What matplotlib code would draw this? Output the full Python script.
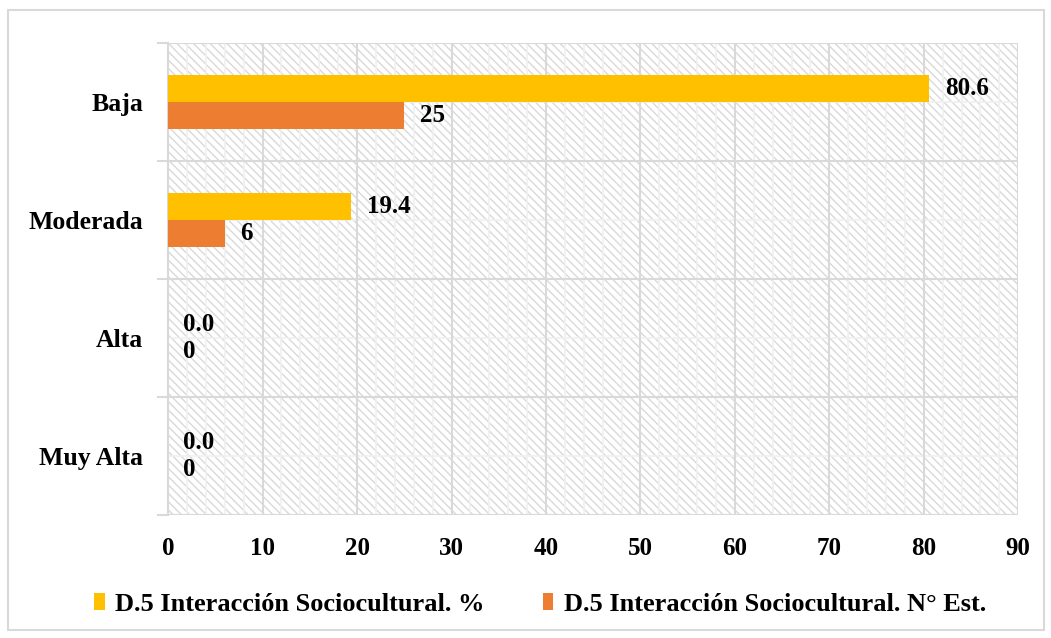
import matplotlib.pyplot as plt
import matplotlib.patches as patches
import numpy as np

plt.rcParams['font.family'] = ['Liberation Serif', 'DejaVu Serif']
plt.rcParams['font.weight'] = 'bold'
plt.rcParams['hatch.linewidth'] = 1.0
plt.rcParams['hatch.color'] = '#d9d9d9'

# Datos
categorias = ['Baja', 'Moderada', 'Alta', 'Muy Alta']
porcentaje = [80.6, 19.4, 0.0, 0.0]
estudiantes = [25, 6, 0, 0]
etiquetas_pct = ['80.6', '19.4', '0.0', '0.0']
etiquetas_est = ['25', '6', '0', '0']
nombre_pct = 'D.5 Interacción Sociocultural. %'
nombre_est = 'D.5 Interacción Sociocultural. N° Est.'

cor_pct = '#ffc000'
cor_est = '#ed7d31'
cor_grade = '#d9d9d9'
tam = 18

fig = plt.figure(figsize=(10.51, 6.38), dpi=100)
ax = fig.add_axes([0.160, 0.1928, 0.8088, 0.7398])

# Borda externa
fig.patches.append(patches.Rectangle((0.008, 0.013), 0.985, 0.972, transform=fig.transFigure,
                                     fill=False, edgecolor='#d9d9d9', linewidth=1.5))

n = len(categorias)
y = np.arange(n)[::-1]  # Baja em cima
altura = 0.23

ax.set_xlim(0, 90)
ax.set_ylim(-0.5, n - 0.5)

# Fundo hachurado
ax.add_patch(patches.Rectangle((0, -0.5), 90, n, facecolor='white', edgecolor=cor_grade,
                               hatch='\\\\\\\\', linewidth=0, zorder=0))

# Linhas de grade secundárias
for xv in np.arange(2, 90, 2):
    if xv % 10 != 0:
        ax.axvline(xv, color='#f0f0f0', linewidth=1.2, zorder=0.5)
for yv in y:
    ax.axhline(yv, color='#f0f0f0', linewidth=1.2, zorder=0.5)

# Grade principal
for xv in np.arange(10, 91, 10):
    ax.axvline(xv, color=cor_grade, linewidth=1.5, zorder=1)
for yv in np.arange(-0.5, n, 1.0):
    ax.axhline(yv, color=cor_grade, linewidth=1.5, zorder=1)

b1 = ax.barh(y + altura / 2, porcentaje, height=altura, color=cor_pct, label=nombre_pct, zorder=3)
b2 = ax.barh(y - altura / 2, estudiantes, height=altura, color=cor_est, label=nombre_est, zorder=3)

ax.bar_label(b1, labels=etiquetas_pct, padding=11, fontsize=tam, fontweight='bold', zorder=4)
ax.bar_label(b2, labels=etiquetas_est, padding=11, fontsize=tam, fontweight='bold', zorder=4)

# Eixos
for lado in ['top', 'right', 'bottom']:
    ax.spines[lado].set_visible(False)
ax.spines['left'].set_color(cor_grade)
ax.spines['left'].set_linewidth(1.5)

ax.set_xticks(np.arange(0, 91, 10))
ax.tick_params(axis='x', length=0, labelsize=tam, pad=16)
ax.set_yticks(np.arange(-0.5, n, 1.0))
ax.set_yticklabels([])
ax.tick_params(axis='y', which='major', length=8, width=1.5, color=cor_grade)
ax.set_yticks(y, minor=True)
ax.set_yticklabels(categorias, minor=True)
ax.tick_params(axis='y', which='minor', length=0, labelsize=tam + 0.5, pad=18)
for t in ax.get_xticklabels() + ax.get_yticklabels(minor=True):
    t.set_fontweight('bold')

ax.legend(loc='center', bbox_to_anchor=(0.4376, -0.189), ncol=2, frameon=False,
          handlelength=0.4, handleheight=0.6, handletextpad=0.4,
          columnspacing=2.2, borderpad=0, prop={'weight': 'bold', 'size': 19})

fig.savefig('out.png', dpi=100)
